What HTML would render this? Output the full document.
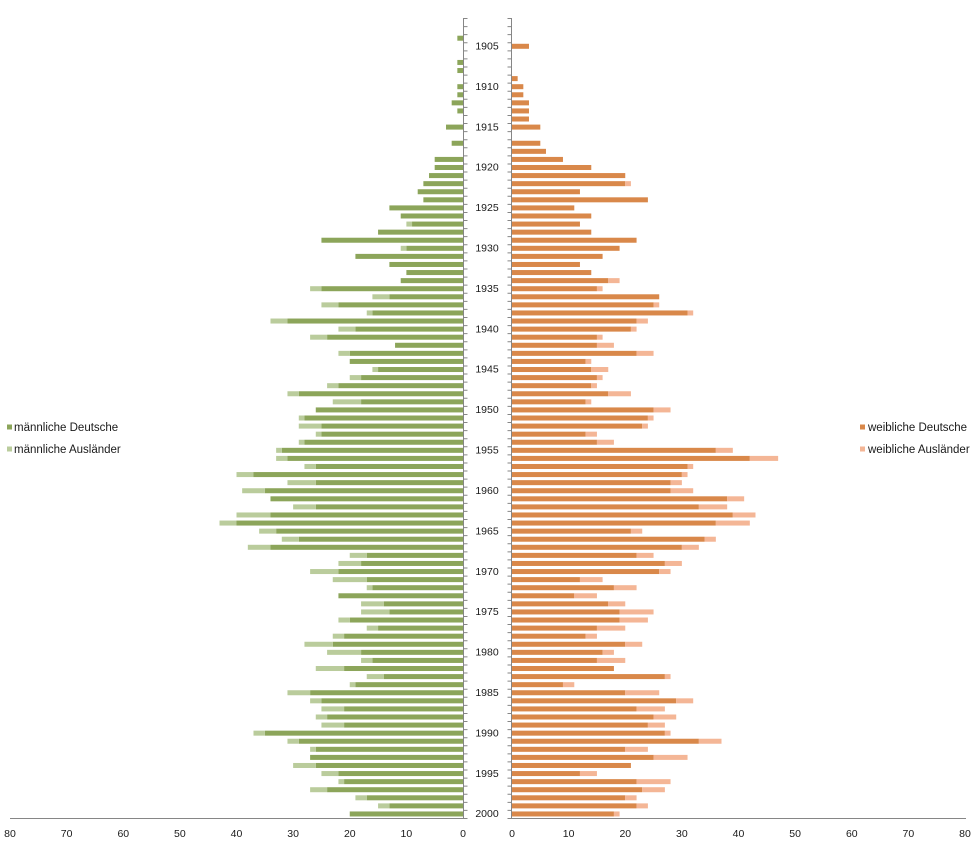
<!DOCTYPE html>
<html><head><meta charset="utf-8"><style>
html,body{margin:0;padding:0;background:#fff;}
svg{display:block;}
text{font-family:"Liberation Sans",Arial,sans-serif;fill:#1a1a1a;}
</style></head><body>
<svg width="978" height="853" viewBox="0 0 978 853" xmlns="http://www.w3.org/2000/svg">
<rect width="978" height="853" fill="#fff"/>
<!-- left male Deutsche -->
<g fill="#8CA55A" transform="matrix(-5.6625,0,0,8.0808,463,19.54)">
<rect x="0" y="2" width="1" height=".62"/><rect x="0" y="5" width="1" height=".62"/><rect x="0" y="6" width="1" height=".62"/><rect x="0" y="8" width="1" height=".62"/><rect x="0" y="9" width="1" height=".62"/><rect x="0" y="10" width="2" height=".62"/><rect x="0" y="11" width="1" height=".62"/><rect x="0" y="13" width="3" height=".62"/><rect x="0" y="15" width="2" height=".62"/><rect x="0" y="17" width="5" height=".62"/><rect x="0" y="18" width="5" height=".62"/><rect x="0" y="19" width="6" height=".62"/><rect x="0" y="20" width="7" height=".62"/><rect x="0" y="21" width="8" height=".62"/><rect x="0" y="22" width="7" height=".62"/><rect x="0" y="23" width="13" height=".62"/><rect x="0" y="24" width="11" height=".62"/><rect x="0" y="25" width="9" height=".62"/><rect x="0" y="26" width="15" height=".62"/><rect x="0" y="27" width="25" height=".62"/><rect x="0" y="28" width="10" height=".62"/><rect x="0" y="29" width="19" height=".62"/><rect x="0" y="30" width="13" height=".62"/><rect x="0" y="31" width="10" height=".62"/><rect x="0" y="32" width="11" height=".62"/><rect x="0" y="33" width="25" height=".62"/><rect x="0" y="34" width="13" height=".62"/><rect x="0" y="35" width="22" height=".62"/><rect x="0" y="36" width="16" height=".62"/><rect x="0" y="37" width="31" height=".62"/><rect x="0" y="38" width="19" height=".62"/><rect x="0" y="39" width="24" height=".62"/><rect x="0" y="40" width="12" height=".62"/><rect x="0" y="41" width="20" height=".62"/><rect x="0" y="42" width="20" height=".62"/><rect x="0" y="43" width="15" height=".62"/><rect x="0" y="44" width="18" height=".62"/><rect x="0" y="45" width="22" height=".62"/><rect x="0" y="46" width="29" height=".62"/><rect x="0" y="47" width="18" height=".62"/><rect x="0" y="48" width="26" height=".62"/><rect x="0" y="49" width="28" height=".62"/><rect x="0" y="50" width="25" height=".62"/><rect x="0" y="51" width="25" height=".62"/><rect x="0" y="52" width="28" height=".62"/><rect x="0" y="53" width="32" height=".62"/><rect x="0" y="54" width="31" height=".62"/><rect x="0" y="55" width="26" height=".62"/><rect x="0" y="56" width="37" height=".62"/><rect x="0" y="57" width="26" height=".62"/><rect x="0" y="58" width="35" height=".62"/><rect x="0" y="59" width="34" height=".62"/><rect x="0" y="60" width="26" height=".62"/><rect x="0" y="61" width="34" height=".62"/><rect x="0" y="62" width="40" height=".62"/><rect x="0" y="63" width="33" height=".62"/><rect x="0" y="64" width="29" height=".62"/><rect x="0" y="65" width="34" height=".62"/><rect x="0" y="66" width="17" height=".62"/><rect x="0" y="67" width="18" height=".62"/><rect x="0" y="68" width="22" height=".62"/><rect x="0" y="69" width="17" height=".62"/><rect x="0" y="70" width="16" height=".62"/><rect x="0" y="71" width="22" height=".62"/><rect x="0" y="72" width="14" height=".62"/><rect x="0" y="73" width="13" height=".62"/><rect x="0" y="74" width="20" height=".62"/><rect x="0" y="75" width="15" height=".62"/><rect x="0" y="76" width="21" height=".62"/><rect x="0" y="77" width="23" height=".62"/><rect x="0" y="78" width="18" height=".62"/><rect x="0" y="79" width="16" height=".62"/><rect x="0" y="80" width="21" height=".62"/><rect x="0" y="81" width="14" height=".62"/><rect x="0" y="82" width="19" height=".62"/><rect x="0" y="83" width="27" height=".62"/><rect x="0" y="84" width="25" height=".62"/><rect x="0" y="85" width="21" height=".62"/><rect x="0" y="86" width="24" height=".62"/><rect x="0" y="87" width="21" height=".62"/><rect x="0" y="88" width="35" height=".62"/><rect x="0" y="89" width="29" height=".62"/><rect x="0" y="90" width="26" height=".62"/><rect x="0" y="91" width="27" height=".62"/><rect x="0" y="92" width="26" height=".62"/><rect x="0" y="93" width="22" height=".62"/><rect x="0" y="94" width="21" height=".62"/><rect x="0" y="95" width="24" height=".62"/><rect x="0" y="96" width="17" height=".62"/><rect x="0" y="97" width="13" height=".62"/><rect x="0" y="98" width="20" height=".62"/>
</g>
<!-- left male Ausländer -->
<g fill="#BACC9C" transform="matrix(-5.6625,0,0,8.0808,463,19.54)">
<rect x="9" y="25" width="1" height=".62"/><rect x="10" y="28" width="1" height=".62"/><rect x="25" y="33" width="2" height=".62"/><rect x="13" y="34" width="3" height=".62"/><rect x="22" y="35" width="3" height=".62"/><rect x="16" y="36" width="1" height=".62"/><rect x="31" y="37" width="3" height=".62"/><rect x="19" y="38" width="3" height=".62"/><rect x="24" y="39" width="3" height=".62"/><rect x="20" y="41" width="2" height=".62"/><rect x="15" y="43" width="1" height=".62"/><rect x="18" y="44" width="2" height=".62"/><rect x="22" y="45" width="2" height=".62"/><rect x="29" y="46" width="2" height=".62"/><rect x="18" y="47" width="5" height=".62"/><rect x="28" y="49" width="1" height=".62"/><rect x="25" y="50" width="4" height=".62"/><rect x="25" y="51" width="1" height=".62"/><rect x="28" y="52" width="1" height=".62"/><rect x="32" y="53" width="1" height=".62"/><rect x="31" y="54" width="2" height=".62"/><rect x="26" y="55" width="2" height=".62"/><rect x="37" y="56" width="3" height=".62"/><rect x="26" y="57" width="5" height=".62"/><rect x="35" y="58" width="4" height=".62"/><rect x="26" y="60" width="4" height=".62"/><rect x="34" y="61" width="6" height=".62"/><rect x="40" y="62" width="3" height=".62"/><rect x="33" y="63" width="3" height=".62"/><rect x="29" y="64" width="3" height=".62"/><rect x="34" y="65" width="4" height=".62"/><rect x="17" y="66" width="3" height=".62"/><rect x="18" y="67" width="4" height=".62"/><rect x="22" y="68" width="5" height=".62"/><rect x="17" y="69" width="6" height=".62"/><rect x="16" y="70" width="1" height=".62"/><rect x="14" y="72" width="4" height=".62"/><rect x="13" y="73" width="5" height=".62"/><rect x="20" y="74" width="2" height=".62"/><rect x="15" y="75" width="2" height=".62"/><rect x="21" y="76" width="2" height=".62"/><rect x="23" y="77" width="5" height=".62"/><rect x="18" y="78" width="6" height=".62"/><rect x="16" y="79" width="2" height=".62"/><rect x="21" y="80" width="5" height=".62"/><rect x="14" y="81" width="3" height=".62"/><rect x="19" y="82" width="1" height=".62"/><rect x="27" y="83" width="4" height=".62"/><rect x="25" y="84" width="2" height=".62"/><rect x="21" y="85" width="4" height=".62"/><rect x="24" y="86" width="2" height=".62"/><rect x="21" y="87" width="4" height=".62"/><rect x="35" y="88" width="2" height=".62"/><rect x="29" y="89" width="2" height=".62"/><rect x="26" y="90" width="1" height=".62"/><rect x="26" y="92" width="4" height=".62"/><rect x="22" y="93" width="3" height=".62"/><rect x="21" y="94" width="1" height=".62"/><rect x="24" y="95" width="3" height=".62"/><rect x="17" y="96" width="2" height=".62"/><rect x="13" y="97" width="2" height=".62"/>
</g>
<!-- right female Deutsche -->
<g fill="#D9884A" transform="matrix(5.6625,0,0,8.0808,512,19.54)">
<rect x="0" y="3" width="3" height=".62"/><rect x="0" y="7" width="1" height=".62"/><rect x="0" y="8" width="2" height=".62"/><rect x="0" y="9" width="2" height=".62"/><rect x="0" y="10" width="3" height=".62"/><rect x="0" y="11" width="3" height=".62"/><rect x="0" y="12" width="3" height=".62"/><rect x="0" y="13" width="5" height=".62"/><rect x="0" y="15" width="5" height=".62"/><rect x="0" y="16" width="6" height=".62"/><rect x="0" y="17" width="9" height=".62"/><rect x="0" y="18" width="14" height=".62"/><rect x="0" y="19" width="20" height=".62"/><rect x="0" y="20" width="20" height=".62"/><rect x="0" y="21" width="12" height=".62"/><rect x="0" y="22" width="24" height=".62"/><rect x="0" y="23" width="11" height=".62"/><rect x="0" y="24" width="14" height=".62"/><rect x="0" y="25" width="12" height=".62"/><rect x="0" y="26" width="14" height=".62"/><rect x="0" y="27" width="22" height=".62"/><rect x="0" y="28" width="19" height=".62"/><rect x="0" y="29" width="16" height=".62"/><rect x="0" y="30" width="12" height=".62"/><rect x="0" y="31" width="14" height=".62"/><rect x="0" y="32" width="17" height=".62"/><rect x="0" y="33" width="15" height=".62"/><rect x="0" y="34" width="26" height=".62"/><rect x="0" y="35" width="25" height=".62"/><rect x="0" y="36" width="31" height=".62"/><rect x="0" y="37" width="22" height=".62"/><rect x="0" y="38" width="21" height=".62"/><rect x="0" y="39" width="15" height=".62"/><rect x="0" y="40" width="15" height=".62"/><rect x="0" y="41" width="22" height=".62"/><rect x="0" y="42" width="13" height=".62"/><rect x="0" y="43" width="14" height=".62"/><rect x="0" y="44" width="15" height=".62"/><rect x="0" y="45" width="14" height=".62"/><rect x="0" y="46" width="17" height=".62"/><rect x="0" y="47" width="13" height=".62"/><rect x="0" y="48" width="25" height=".62"/><rect x="0" y="49" width="24" height=".62"/><rect x="0" y="50" width="23" height=".62"/><rect x="0" y="51" width="13" height=".62"/><rect x="0" y="52" width="15" height=".62"/><rect x="0" y="53" width="36" height=".62"/><rect x="0" y="54" width="42" height=".62"/><rect x="0" y="55" width="31" height=".62"/><rect x="0" y="56" width="30" height=".62"/><rect x="0" y="57" width="28" height=".62"/><rect x="0" y="58" width="28" height=".62"/><rect x="0" y="59" width="38" height=".62"/><rect x="0" y="60" width="33" height=".62"/><rect x="0" y="61" width="39" height=".62"/><rect x="0" y="62" width="36" height=".62"/><rect x="0" y="63" width="21" height=".62"/><rect x="0" y="64" width="34" height=".62"/><rect x="0" y="65" width="30" height=".62"/><rect x="0" y="66" width="22" height=".62"/><rect x="0" y="67" width="27" height=".62"/><rect x="0" y="68" width="26" height=".62"/><rect x="0" y="69" width="12" height=".62"/><rect x="0" y="70" width="18" height=".62"/><rect x="0" y="71" width="11" height=".62"/><rect x="0" y="72" width="17" height=".62"/><rect x="0" y="73" width="19" height=".62"/><rect x="0" y="74" width="19" height=".62"/><rect x="0" y="75" width="15" height=".62"/><rect x="0" y="76" width="13" height=".62"/><rect x="0" y="77" width="20" height=".62"/><rect x="0" y="78" width="16" height=".62"/><rect x="0" y="79" width="15" height=".62"/><rect x="0" y="80" width="18" height=".62"/><rect x="0" y="81" width="27" height=".62"/><rect x="0" y="82" width="9" height=".62"/><rect x="0" y="83" width="20" height=".62"/><rect x="0" y="84" width="29" height=".62"/><rect x="0" y="85" width="22" height=".62"/><rect x="0" y="86" width="25" height=".62"/><rect x="0" y="87" width="24" height=".62"/><rect x="0" y="88" width="27" height=".62"/><rect x="0" y="89" width="33" height=".62"/><rect x="0" y="90" width="20" height=".62"/><rect x="0" y="91" width="25" height=".62"/><rect x="0" y="92" width="21" height=".62"/><rect x="0" y="93" width="12" height=".62"/><rect x="0" y="94" width="22" height=".62"/><rect x="0" y="95" width="23" height=".62"/><rect x="0" y="96" width="20" height=".62"/><rect x="0" y="97" width="22" height=".62"/><rect x="0" y="98" width="18" height=".62"/>
</g>
<!-- right female Ausländer -->
<g fill="#F4B696" transform="matrix(5.6625,0,0,8.0808,512,19.54)">
<rect x="20" y="20" width="1" height=".62"/><rect x="17" y="32" width="2" height=".62"/><rect x="15" y="33" width="1" height=".62"/><rect x="25" y="35" width="1" height=".62"/><rect x="31" y="36" width="1" height=".62"/><rect x="22" y="37" width="2" height=".62"/><rect x="21" y="38" width="1" height=".62"/><rect x="15" y="39" width="1" height=".62"/><rect x="15" y="40" width="3" height=".62"/><rect x="22" y="41" width="3" height=".62"/><rect x="13" y="42" width="1" height=".62"/><rect x="14" y="43" width="3" height=".62"/><rect x="15" y="44" width="1" height=".62"/><rect x="14" y="45" width="1" height=".62"/><rect x="17" y="46" width="4" height=".62"/><rect x="13" y="47" width="1" height=".62"/><rect x="25" y="48" width="3" height=".62"/><rect x="24" y="49" width="1" height=".62"/><rect x="23" y="50" width="1" height=".62"/><rect x="13" y="51" width="2" height=".62"/><rect x="15" y="52" width="3" height=".62"/><rect x="36" y="53" width="3" height=".62"/><rect x="42" y="54" width="5" height=".62"/><rect x="31" y="55" width="1" height=".62"/><rect x="30" y="56" width="1" height=".62"/><rect x="28" y="57" width="2" height=".62"/><rect x="28" y="58" width="4" height=".62"/><rect x="38" y="59" width="3" height=".62"/><rect x="33" y="60" width="5" height=".62"/><rect x="39" y="61" width="4" height=".62"/><rect x="36" y="62" width="6" height=".62"/><rect x="21" y="63" width="2" height=".62"/><rect x="34" y="64" width="2" height=".62"/><rect x="30" y="65" width="3" height=".62"/><rect x="22" y="66" width="3" height=".62"/><rect x="27" y="67" width="3" height=".62"/><rect x="26" y="68" width="2" height=".62"/><rect x="12" y="69" width="4" height=".62"/><rect x="18" y="70" width="4" height=".62"/><rect x="11" y="71" width="4" height=".62"/><rect x="17" y="72" width="3" height=".62"/><rect x="19" y="73" width="6" height=".62"/><rect x="19" y="74" width="5" height=".62"/><rect x="15" y="75" width="5" height=".62"/><rect x="13" y="76" width="2" height=".62"/><rect x="20" y="77" width="3" height=".62"/><rect x="16" y="78" width="2" height=".62"/><rect x="15" y="79" width="5" height=".62"/><rect x="27" y="81" width="1" height=".62"/><rect x="9" y="82" width="2" height=".62"/><rect x="20" y="83" width="6" height=".62"/><rect x="29" y="84" width="3" height=".62"/><rect x="22" y="85" width="5" height=".62"/><rect x="25" y="86" width="4" height=".62"/><rect x="24" y="87" width="3" height=".62"/><rect x="27" y="88" width="1" height=".62"/><rect x="33" y="89" width="4" height=".62"/><rect x="20" y="90" width="4" height=".62"/><rect x="25" y="91" width="6" height=".62"/><rect x="12" y="93" width="3" height=".62"/><rect x="22" y="94" width="6" height=".62"/><rect x="23" y="95" width="4" height=".62"/><rect x="20" y="96" width="2" height=".62"/><rect x="22" y="97" width="2" height=".62"/><rect x="18" y="98" width="1" height=".62"/>
</g>
<!-- axes -->
<g stroke="#868686" fill="none">
<line x1="463.5" y1="18" x2="463.5" y2="818" stroke-width="1"/>
<line x1="511.5" y1="18" x2="511.5" y2="818" stroke-width="1"/>
<line x1="465.5" y1="18" x2="465.5" y2="819" stroke-width="4" stroke-dasharray="1 7.0808"/>
<line x1="509.5" y1="18" x2="509.5" y2="819" stroke-width="4" stroke-dasharray="1 7.0808"/>
<line x1="10" y1="818.5" x2="464" y2="818.5" stroke-width="1"/>
<line x1="511" y1="818.5" x2="966" y2="818.5" stroke-width="1"/>
</g>
<!-- year labels -->
<g font-size="10.5" text-anchor="middle">
<text x="487" y="49.5">1905</text><text x="487" y="89.9">1910</text><text x="487" y="130.3">1915</text><text x="487" y="170.7">1920</text><text x="487" y="211.1">1925</text><text x="487" y="251.5">1930</text><text x="487" y="291.9">1935</text><text x="487" y="332.3">1940</text><text x="487" y="372.7">1945</text><text x="487" y="413.1">1950</text><text x="487" y="453.5">1955</text><text x="487" y="494">1960</text><text x="487" y="534.4">1965</text><text x="487" y="574.8">1970</text><text x="487" y="615.2">1975</text><text x="487" y="655.6">1980</text><text x="487" y="696">1985</text><text x="487" y="736.4">1990</text><text x="487" y="776.8">1995</text><text x="487" y="817.2">2000</text>
</g>
<!-- x labels -->
<g font-size="10.5" text-anchor="middle">
<text x="10" y="837">80</text><text x="66.6" y="837">70</text><text x="123.3" y="837">60</text><text x="179.9" y="837">50</text><text x="236.5" y="837">40</text><text x="293.1" y="837">30</text><text x="349.8" y="837">20</text><text x="406.4" y="837">10</text><text x="463" y="837">0</text>
<text x="512" y="837">0</text><text x="568.6" y="837">10</text><text x="625.3" y="837">20</text><text x="681.9" y="837">30</text><text x="738.5" y="837">40</text><text x="795.1" y="837">50</text><text x="851.8" y="837">60</text><text x="908.4" y="837">70</text><text x="965" y="837">80</text>
</g>
<!-- legends -->
<rect x="7" y="424.5" width="5" height="5" fill="#8CA55A"/>
<rect x="7" y="446.5" width="5" height="5" fill="#BACC9C"/>
<text x="14" y="431" font-size="11.5">männliche Deutsche</text>
<text x="14" y="453" font-size="11.5">männliche Ausländer</text>
<rect x="860" y="424.5" width="5" height="5" fill="#D9884A"/>
<rect x="860" y="446.5" width="5" height="5" fill="#F4B696"/>
<text x="868" y="431" font-size="11.5">weibliche Deutsche</text>
<text x="868" y="453" font-size="11.5">weibliche Ausländer</text>
</svg>
</body></html>
